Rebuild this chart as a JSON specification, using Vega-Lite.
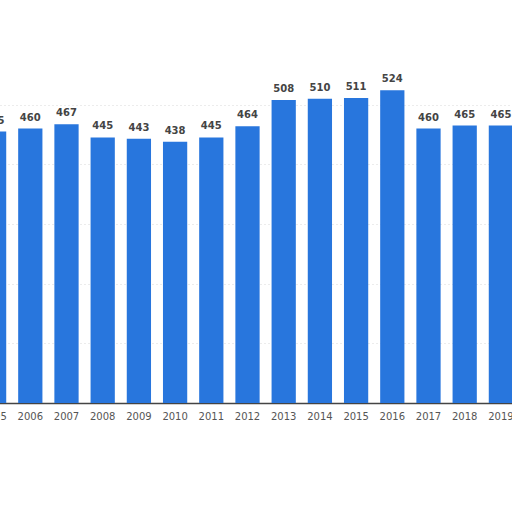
{
  "$schema": "https://vega.github.io/schema/vega-lite/v6.json",
  "autosize": "none",
  "width": 512,
  "height": 358,
  "padding": {"left": 0, "top": 45, "right": 0, "bottom": 109},
  "background": "white",
  "data": {
    "values": [
      {"year": "2005", "value": 455},
      {"year": "2006", "value": 460},
      {"year": "2007", "value": 467},
      {"year": "2008", "value": 445},
      {"year": "2009", "value": 443},
      {"year": "2010", "value": 438},
      {"year": "2011", "value": 445},
      {"year": "2012", "value": 464},
      {"year": "2013", "value": 508},
      {"year": "2014", "value": 510},
      {"year": "2015", "value": 511},
      {"year": "2016", "value": 524},
      {"year": "2017", "value": 460},
      {"year": "2018", "value": 465},
      {"year": "2019", "value": 465}
    ]
  },
  "encoding": {
    "x": {
      "field": "year",
      "type": "ordinal",
      "title": null,
      "scale": {"range": [-24, 519], "paddingInner": 0.33, "paddingOuter": 0.165},
      "axis": {
        "labelAngle": 0,
        "labelFont": "DejaVu Sans",
        "labelFontSize": 10,
        "labelColor": "#555555",
        "labelPadding": 8,
        "ticks": false,
        "domainColor": "#444444",
        "domainWidth": 1.5,
        "labelOverlap": false
      }
    },
    "y": {
      "field": "value",
      "type": "quantitative",
      "title": null,
      "scale": {"domain": [0, 600], "nice": false},
      "axis": {
        "values": [100, 200, 300, 400, 500],
        "labels": false,
        "ticks": false,
        "domain": false,
        "grid": true,
        "gridColor": "#d8d8d8",
        "gridDash": [1, 3]
      }
    }
  },
  "layer": [
    {
      "mark": {"type": "bar", "color": "#2876dd", "clip": true}
    },
    {
      "mark": {
        "type": "text",
        "baseline": "bottom",
        "dy": -6,
        "font": "DejaVu Sans",
        "fontSize": 10,
        "fontWeight": "bold",
        "color": "#444444",
        "clip": true
      },
      "encoding": {"text": {"field": "value", "type": "quantitative"}}
    }
  ],
  "config": {"view": {"stroke": null}}
}
